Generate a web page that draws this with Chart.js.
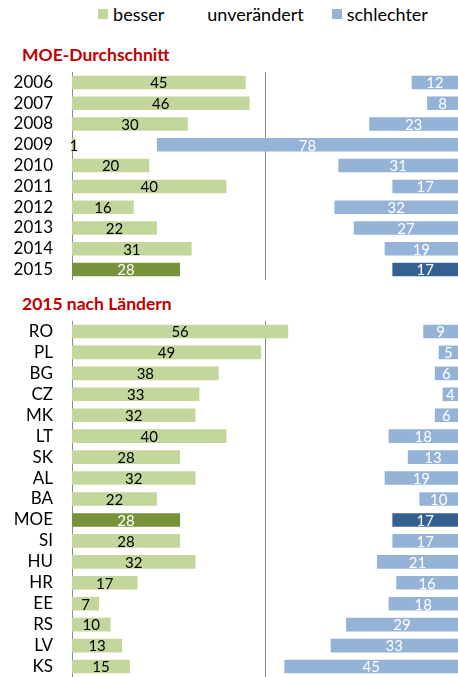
<!DOCTYPE html>
<html>
<head>
<meta charset="utf-8">
<script src="https://cdn.jsdelivr.net/npm/chart.js@4.4.1/dist/chart.umd.min.js"></script>
<style>
  html, body { margin: 0; padding: 0; background: #fff; }
  body { width: 458px; height: 677px; position: relative; overflow: hidden; font-family: Lato, sans-serif; }
  #legend { position: absolute; top: 3px; left: 70px; width: 386px; height: 22px;
            display: flex; justify-content: center; align-items: center; font-size: 18px; color: #000; }
  #legend .item { display: flex; align-items: center; margin: 0 14px; }
  #legend .box { width: 10px; height: 10px; margin-right: 5px; }
  .title { position: absolute; left: 22px; font-size: 17.5px; font-weight: bold; color: #C00000; line-height: 20px; }
  #titleTop { top: 45px; }
  #titleBottom { top: 294px; }
  #wrapTop { position: absolute; left: 0; top: 72px; width: 458px; height: 208px; }
  #wrapBottom { position: absolute; left: 0; top: 321px; width: 458px; height: 356px; }
</style>
</head>
<body>
<div id="legend"></div>
<div class="title" id="titleTop">MOE-Durchschnitt</div>
<div class="title" id="titleBottom">2015 nach Ländern</div>
<div id="wrapTop"><canvas id="avgChart"></canvas></div>
<div id="wrapBottom"><canvas id="countryChart"></canvas></div>
<script>
    // MOE average per year
    const years = ['2006', '2007', '2008', '2009', '2010', '2011', '2012', '2013', '2014', '2015'];
    const besserAvg = [45, 46, 30, 1, 20, 40, 16, 22, 31, 28];
    const schlechterAvg = [12, 8, 23, 78, 31, 17, 32, 27, 19, 17];

    // 2015 by country
    const countries = ['RO', 'PL', 'BG', 'CZ', 'MK', 'LT', 'SK', 'AL', 'BA', 'MOE', 'SI', 'HU', 'HR', 'EE', 'RS', 'LV', 'KS'];
    const besserCountry = [56, 49, 38, 33, 32, 40, 28, 32, 22, 28, 28, 32, 17, 7, 10, 13, 15];
    const schlechterCountry = [9, 5, 6, 4, 6, 18, 13, 19, 10, 17, 17, 21, 16, 18, 29, 33, 45];

    const green = '#C3D69B', greenDark = '#77933C';
    const blue = '#95B3D7', blueDark = '#376092';
    const axisGray = '#8C8C8C';

    // vertical line at the 50 % mark
    const midLine = {
        id: 'midLine',
        beforeDatasetsDraw(chart) {
            const ctx = chart.ctx;
            const x = Math.round(chart.scales.x.getPixelForValue(50)) + 0.5;
            ctx.save();
            ctx.strokeStyle = axisGray;
            ctx.lineWidth = 1;
            ctx.beginPath();
            ctx.moveTo(x, chart.chartArea.top);
            ctx.lineTo(x, chart.chartArea.bottom);
            ctx.stroke();
            ctx.restore();
        }
    };

    // bar labels in the middle of each bar
    const barLabels = {
        id: 'barLabels',
        afterDatasetsDraw(chart) {
            const ctx = chart.ctx;
            ctx.save();
            ctx.font = '15px Lato, sans-serif';
            ctx.textAlign = 'center';
            ctx.textBaseline = 'middle';
            [0, 2].forEach(di => {
                const ds = chart.data.datasets[di];
                chart.getDatasetMeta(di).data.forEach((bar, i) => {
                    const dark = i === ds.highlight;
                    ctx.fillStyle = (di === 2 || dark) ? '#FFFFFF' : '#000000';
                    ctx.fillText(ds.data[i], (bar.x + bar.base) / 2, bar.y + 1);
                });
            });
            ctx.restore();
        }
    };

    function makeChart(id, labels, besser, schlechter, highlight) {
        const rest = besser.map((b, i) => 100 - b - schlechter[i]);
        return new Chart(document.getElementById(id), {
            type: 'bar',
            data: {
                labels: labels,
                datasets: [{
                    label: 'besser',
                    data: besser,
                    highlight: highlight,
                    backgroundColor: besser.map((v, i) => i === highlight ? greenDark : green)
                }, {
                    label: 'unverändert',
                    data: rest,
                    backgroundColor: 'rgba(0,0,0,0)'
                }, {
                    label: 'schlechter',
                    data: schlechter,
                    highlight: highlight,
                    backgroundColor: schlechter.map((v, i) => i === highlight ? blueDark : blue)
                }]
            },
            options: {
                indexAxis: 'y',
                responsive: true,
                maintainAspectRatio: false,
                animation: false,
                layout: { padding: 0 },
                datasets: { bar: { barPercentage: 0.65, categoryPercentage: 1 } },
                scales: {
                    x: { display: false, stacked: true, min: 0, max: 100 },
                    y: {
                        stacked: true,
                        // fixed axis width, and no extra room above/below for the labels
                        afterFit: s => { s.width = 72; s.paddingTop = 0; s.paddingBottom = 0; },
                        ticks: { color: '#000', font: { family: 'Lato', size: 17 }, padding: 19, autoSkip: false },
                        grid: { display: false, drawTicks: false },
                        border: { display: true, color: axisGray, width: 1 }
                    }
                },
                plugins: {
                    legend: { display: false },
                    tooltip: { enabled: false }
                }
            },
            plugins: [midLine, barLabels]
        });
    }

    const avgChart = makeChart('avgChart', years, besserAvg, schlechterAvg, 9);
    makeChart('countryChart', countries, besserCountry, schlechterCountry, 9);

    // shared legend built from the first chart's datasets
    const legendEl = document.getElementById('legend');
    avgChart.data.datasets.forEach(ds => {
        const item = document.createElement('div');
        item.className = 'item';
        const box = document.createElement('span');
        box.className = 'box';
        box.style.background = Array.isArray(ds.backgroundColor) ? ds.backgroundColor[0] : ds.backgroundColor;
        const txt = document.createElement('span');
        txt.textContent = ds.label;
        item.appendChild(box);
        item.appendChild(txt);
        legendEl.appendChild(item);
    });
</script>
</body>
</html>
